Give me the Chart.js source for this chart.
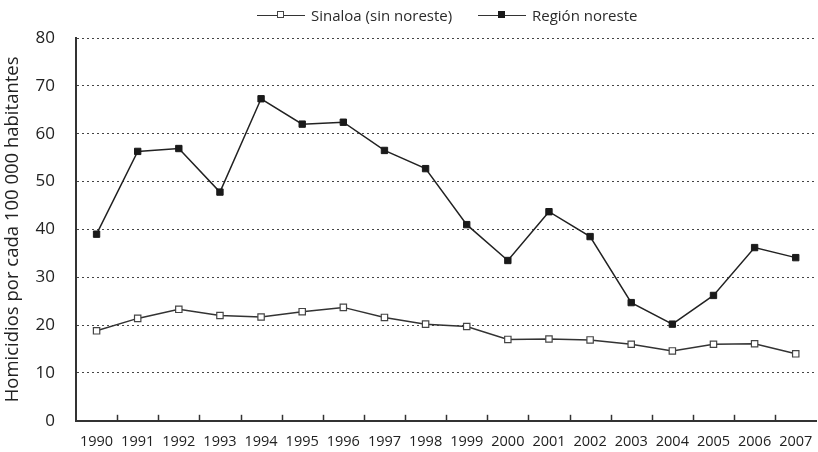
<!DOCTYPE html>
<html>
<head>
<meta charset="utf-8">
<script src="https://cdn.jsdelivr.net/npm/chart.js@4.4.1/dist/chart.umd.min.js"></script>
<style>
  html, body { margin: 0; padding: 0; background: #fff; overflow: hidden; }
  #wrap { position: relative; width: 822px; height: 452px; }
  #legend { position: absolute; top: 5px; left: 0; width: 818px; height: 20px; font-family: "Open Sans", sans-serif; font-size: 15px; color: #2a2a2a; }
  .item { position: absolute; top: 0; display: flex; align-items: center; height: 20px; }
  .sw { position: relative; width: 48px; height: 20px; margin-right: 6px; }
  .sw .ln { position: absolute; left: 0; right: 0; top: 9.5px; height: 1.5px; background: #333; }
  .sw .mk { position: absolute; left: 20px; top: 6px; width: 7px; height: 7px; box-sizing: border-box; border: 1.5px solid #444; }
</style>
</head>
<body>
<div id="wrap">
  <canvas id="c" width="822" height="452"></canvas>
  <div id="legend">
    <div class="item" style="left:257px"><div class="sw"><div class="ln"></div><div class="mk" style="background:#fff"></div></div><span>Sinaloa (sin noreste)</span></div>
    <div class="item" style="left:478px"><div class="sw"><div class="ln"></div><div class="mk" style="background:#1a1a1a;border-color:#1a1a1a"></div></div><span>Región noreste</span></div>
  </div>
</div>
<script>
const years = ["1990","1991","1992","1993","1994","1995","1996","1997","1998","1999","2000","2001","2002","2003","2004","2005","2006","2007"];
const sinaloa = [18.8, 21.4, 23.3, 22.0, 21.7, 22.8, 23.7, 21.6, 20.2, 19.7, 17.0, 17.1, 16.9, 16.0, 14.6, 16.0, 16.1, 14.0];
const noreste = [39.0, 56.3, 56.9, 47.8, 67.3, 62.0, 62.4, 56.5, 52.7, 41.0, 33.5, 43.7, 38.5, 24.7, 20.2, 26.2, 36.2, 34.1];
const yTitle = "Homicidios por cada 100 000 habitantes";

const innerTicks = {
  id: 'innerTicks',
  afterDraw(chart) {
    const x = chart.scales.x, ctx = chart.ctx;
    const bottom = chart.chartArea.bottom;
    ctx.save();
    ctx.strokeStyle = '#333';
    ctx.lineWidth = 1.5;
    for (let i = 1; i < years.length; i++) {
      const px = Math.round((x.getPixelForTick(i - 1) + x.getPixelForTick(i)) / 2) + 0.5;
      ctx.beginPath();
      ctx.moveTo(px, bottom);
      ctx.lineTo(px, bottom - 6);
      ctx.stroke();
    }
    ctx.restore();
  }
};

new Chart(document.getElementById('c'), {
  type: 'line',
  data: {
    labels: years,
    datasets: [
      { label: 'Sinaloa (sin noreste)', data: sinaloa, borderColor: '#333', borderWidth: 1.5,
        pointStyle: 'rect', pointRadius: 4.5, pointBackgroundColor: '#fff', pointBorderColor: '#444', pointBorderWidth: 1.2, tension: 0 },
      { label: 'Región noreste', data: noreste, borderColor: '#222', borderWidth: 1.5,
        pointStyle: 'rect', pointRadius: 4.5, pointBackgroundColor: '#1a1a1a', pointBorderColor: '#1a1a1a', pointBorderWidth: 1, tension: 0 }
    ]
  },
  options: {
    responsive: false,
    animation: false,
    layout: { padding: { top: 38, right: 0, left: 0, bottom: 0 } },
    plugins: { legend: { display: false }, tooltip: { enabled: false } },
    scales: {
      x: {
        offset: true,
        grid: { display: false },
        border: { display: true, color: '#333', width: 2 },
        ticks: { color: '#222', font: { family: 'Open Sans', size: 14.5 }, padding: 4, maxRotation: 0, autoSkip: false },
        afterFit(s) { s.height = 30; }
      },
      y: {
        min: 0, max: 80,
        ticks: { stepSize: 10, color: '#222', font: { family: 'Open Sans', size: 17 }, padding: 21 },
        grid: { color: '#444', lineWidth: 1, drawTicks: false },
        border: { display: true, color: '#333', width: 2, dash: [2, 3] },
        title: { display: true, text: yTitle, color: '#222', font: { family: 'Open Sans', size: 18.5 }, padding: { top: 2, bottom: 4 } },
        afterFit(s) { s.width = 76; }
      }
    }
  },
  plugins: [innerTicks]
});
</script>
</body>
</html>
